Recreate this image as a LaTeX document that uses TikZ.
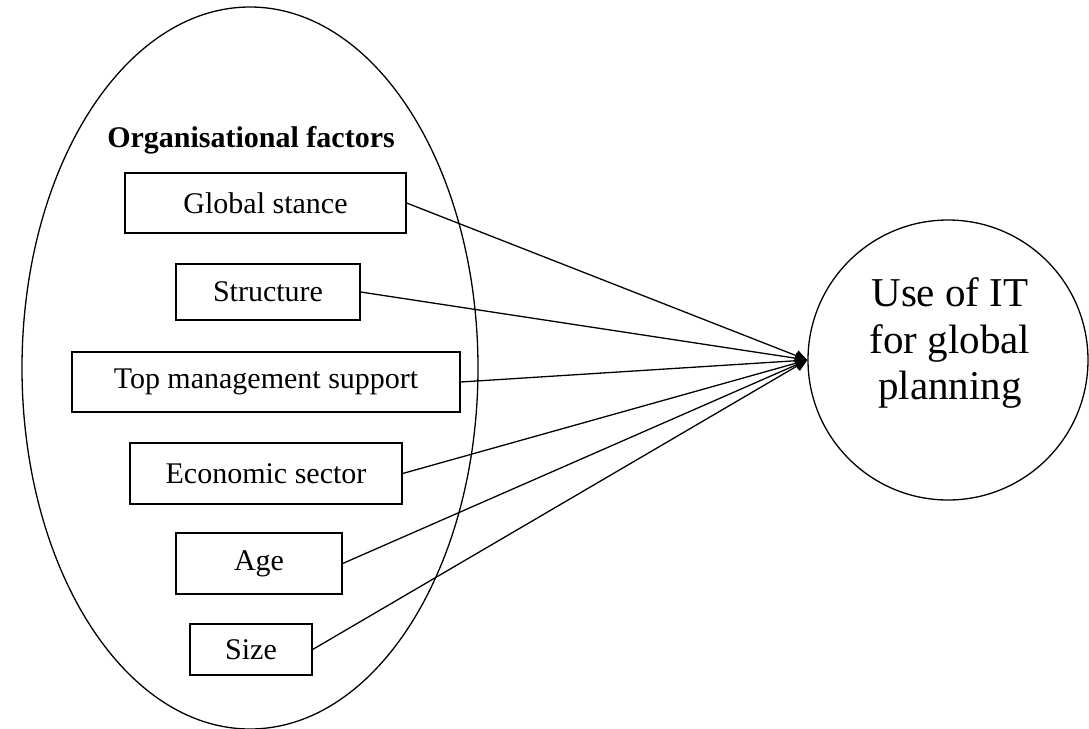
\documentclass[tikz,border=0pt]{standalone}
\usepackage{fontspec}
\setmainfont{Liberation Serif}
\usetikzlibrary{arrows.meta}

\begin{document}
\begin{tikzpicture}[x=0.5pt, y=-0.5pt]
    \tikzstyle{factor} = [rectangle, draw, line width=0.65pt, inner sep=0pt, font=\fontsize{15}{18}\selectfont]
    \tikzstyle{outcome} = [circle, draw, line width=0.65pt, inner sep=0pt, minimum size=140pt]
    \tikzstyle{link} = [line width=0.65pt, -{Triangle[length=6pt, width=5.5pt]}]

    \useasboundingbox (0,0) rectangle (1089,729);

    % Organisational group
    \draw[line width=0.65pt] (250,368) ellipse [x radius=114pt, y radius=180.5pt];
    \node[font=\fontsize{15}{18}\selectfont\bfseries] (title) at (251,140) {Organisational factors};

    % Factors
    \node[factor, minimum width=140.5pt, minimum height=30pt] (stance) at (265.5,203) {Global stance};
    \node[factor, minimum width=92pt, minimum height=28pt] (struct) at (268,292) {Structure};
    \node[factor, minimum width=194pt, minimum height=30pt] (topmgmt) at (266,382) {Top management support};
    \node[factor, minimum width=136pt, minimum height=30.5pt] (sector) at (266,473.5) {Economic sector};
    \node[factor, minimum width=83pt, minimum height=30.5pt] (age) at (259,563.5) {Age};
    \node[factor, minimum width=61pt, minimum height=25.5pt] (size) at (251,649.5) {Size};

    % Outcome
    \node[outcome] (useit) at (948,360) {};
    \node[align=center, font=\fontsize{20.5}{23.25}\selectfont] (useittext) at (950,343) {Use of IT\\for global\\planning};

    % Links
    \foreach \f in {stance, struct, topmgmt, sector, age, size} {
        \draw[link] (\f.east) -- (useit.west);
    }
\end{tikzpicture}
\end{document}
